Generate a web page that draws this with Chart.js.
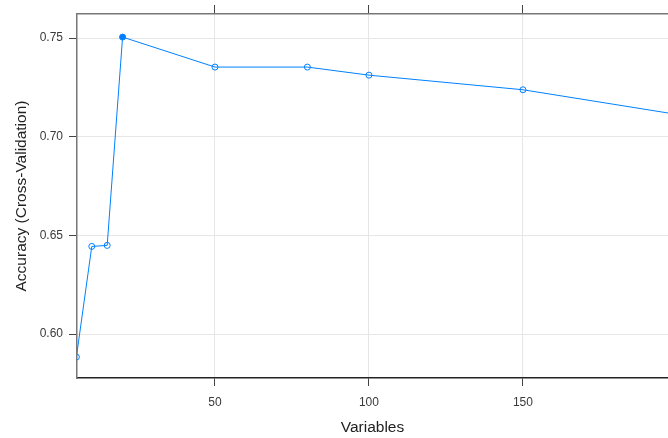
<!DOCTYPE html>
<html>
<head>
<meta charset="utf-8">
<script src="https://cdn.jsdelivr.net/npm/chart.js@4"></script>
<style>
  html, body { margin: 0; padding: 0; background: #fff; }
  #wrap { width: 668px; height: 438px; position: relative; }
</style>
</head>
<body>
<div id="wrap"><canvas id="chart"></canvas></div>
<script>
// values
const variables = [5, 10, 15, 20, 50, 80, 100, 150, 200];
const accuracy = [0.5883, 0.6444, 0.6449, 0.7505, 0.7353, 0.7353, 0.7312, 0.7238, 0.7113];
const bestIndex = 3;
const xTicks = [50, 100, 150];
const yTicks = [0.60, 0.65, 0.70, 0.75];

const lineColor = '#0080ff';
const font = 'Arial, "Liberation Sans", sans-serif';

// keep the plot flush with the right edge, like the cropped original
function noSidePadding(scale) {
    scale.paddingLeft = 0;
    scale.paddingRight = 0;
}

var ctx = document.getElementById('chart').getContext('2d');

var chart = new Chart(ctx, {
    type: 'line',
    data: {
        datasets: [{
            data: variables.map((v, i) => ({ x: v, y: accuracy[i] })),
            borderColor: lineColor,
            borderWidth: 1,
            pointRadius: 3,
            pointBorderWidth: 1,
            pointBorderColor: lineColor,
            pointBackgroundColor: accuracy.map((_, i) => i === bestIndex ? lineColor : 'rgba(0,0,0,0)'),
            tension: 0,
        }],
    },
    options: {
        responsive: true,
        maintainAspectRatio: false,
        animation: false,
        layout: { padding: 0, autoPadding: false },
        plugins: {
            legend: { display: false },
            tooltip: { enabled: false },
        },
        scales: {
            x: {
                type: 'linear',
                position: 'bottom',
                min: 5.2,
                max: 197.1,
                afterBuildTicks: scale => { scale.ticks = xTicks.map(v => ({ value: v })); },
                afterFit: scale => { scale.height = 60; noSidePadding(scale); },
                ticks: {
                    color: '#3a3a3a',
                    font: { family: font, size: 12 },
                    padding: 9,
                    maxRotation: 0,
                },
                grid: {
                    color: '#e6e6e6',
                    lineWidth: 1,
                    tickLength: 8,
                    tickColor: '#444',
                },
                border: { color: '#222', width: 1.5 },
                title: {
                    display: true,
                    text: 'Variables',
                    color: '#222',
                    font: { family: font, size: 15.5 },
                    padding: { top: 0, bottom: 1 },
                },
            },
            x2: {
                type: 'linear',
                position: 'top',
                min: 5.2,
                max: 197.1,
                afterBuildTicks: scale => { scale.ticks = xTicks.map(v => ({ value: v })); },
                afterFit: scale => { scale.height = 14; noSidePadding(scale); },
                ticks: { display: false },
                grid: {
                    drawOnChartArea: false,
                    tickLength: 9,
                    tickColor: '#444',
                },
                border: { color: '#777', width: 1.5 },
            },
            y: {
                type: 'linear',
                position: 'left',
                min: 0.5777,
                max: 0.7622,
                afterBuildTicks: scale => { scale.ticks = yTicks.map(v => ({ value: v })); },
                afterFit: scale => { scale.width = 77; },
                ticks: {
                    color: '#3a3a3a',
                    font: { family: font, size: 12 },
                    padding: 6,
                    callback: v => v.toFixed(2),
                },
                grid: {
                    color: '#e6e6e6',
                    lineWidth: 1,
                    tickLength: 8,
                    tickColor: '#444',
                },
                border: { color: '#777', width: 1.5 },
                title: {
                    display: true,
                    text: 'Accuracy (Cross-Validation)',
                    color: '#222',
                    font: { family: font, size: 15.5 },
                    padding: { top: 12, bottom: 0 },
                },
            },
        },
    },
});
</script>
</body>
</html>
